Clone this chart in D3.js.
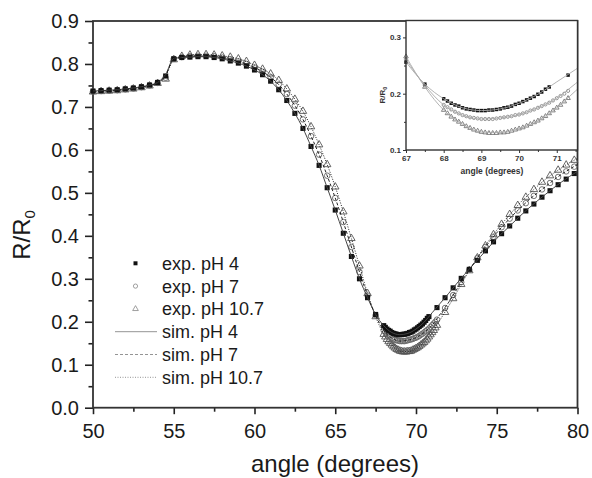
<!DOCTYPE html>
<html>
<head>
<meta charset="utf-8">
<script src="https://cdnjs.cloudflare.com/ajax/libs/d3/7.8.5/d3.min.js"></script>
<style>
body { margin: 0; background: #fff; }
text { font-family: "Liberation Sans", Arial, sans-serif; fill: #1a1a1a; }
</style>
</head>
<body>
<div id="chart"></div>
<script>
var width = 592,
    height = 478;

// measured angles (degrees)
var angleLow = [50, 50.5, 51, 51.5, 52, 52.5, 53, 53.5, 54, 54.5, 55, 55.5, 56, 56.5, 57, 57.5, 58, 58.5,
  59, 59.5, 60, 60.5, 61, 61.5, 62, 62.5, 63, 63.5, 64, 64.5, 65, 65.5, 66, 66.5, 67, 67.5];
var angleDense = [68.0, 68.1, 68.2, 68.3, 68.4, 68.5, 68.6, 68.7, 68.8, 68.9, 69.0, 69.1, 69.2, 69.3, 69.4,
  69.5, 69.6, 69.7, 69.8, 69.9, 70.0, 70.1, 70.2, 70.3, 70.4, 70.5, 70.6, 70.7, 70.8, 70.9, 71.0, 71.1, 71.2];
var angleHigh = [71.3, 71.8, 72.3, 72.8, 73.3, 73.8, 74.3, 74.8, 75.3, 75.8, 76.3, 76.8, 77.3, 77.8, 78.3,
  78.8, 79.3, 79.8];

// exp. pH 4
var exp4Low = [0.737, 0.738, 0.739, 0.740, 0.742, 0.744, 0.747, 0.751, 0.757, 0.772, 0.812, 0.815, 0.816,
  0.817, 0.817, 0.815, 0.812, 0.807, 0.802, 0.795, 0.786, 0.775, 0.760, 0.740, 0.715, 0.685, 0.650, 0.608,
  0.564, 0.512, 0.460, 0.406, 0.352, 0.300, 0.256, 0.217];
var exp4Dense = [0.191, 0.187, 0.183, 0.180, 0.178, 0.175, 0.173, 0.172, 0.171, 0.170, 0.170, 0.170, 0.171,
  0.171, 0.172, 0.173, 0.175, 0.176, 0.178, 0.181, 0.183, 0.186, 0.189, 0.192, 0.195, 0.199, 0.203, 0.208, 0.212];
var exp4High = [0.233, 0.256, 0.279, 0.301, 0.322, 0.343, 0.365, 0.386, 0.405, 0.423, 0.441, 0.458, 0.474,
  0.490, 0.505, 0.519, 0.532, 0.545];

// exp. pH 7
var exp7Low = [0.736, 0.737, 0.738, 0.739, 0.741, 0.743, 0.746, 0.750, 0.756, 0.768, 0.812, 0.816, 0.818,
  0.819, 0.819, 0.818, 0.815, 0.811, 0.806, 0.800, 0.792, 0.782, 0.769, 0.752, 0.730, 0.703, 0.671, 0.632,
  0.589, 0.540, 0.488, 0.432, 0.374, 0.316, 0.261, 0.215];
var exp7Dense = [0.180, 0.176, 0.172, 0.168, 0.165, 0.162, 0.160, 0.158, 0.157, 0.156, 0.155, 0.155, 0.155,
  0.155, 0.156, 0.157, 0.158, 0.159, 0.160, 0.162, 0.163, 0.165, 0.167, 0.170, 0.172, 0.175, 0.178, 0.181,
  0.184, 0.188, 0.192, 0.196, 0.200];
var exp7High = [0.205, 0.232, 0.262, 0.292, 0.321, 0.348, 0.374, 0.398, 0.420, 0.440, 0.459, 0.476, 0.493,
  0.508, 0.523, 0.537, 0.550, 0.561];

// exp. pH 10.7
var exp10Low = [0.735, 0.736, 0.737, 0.738, 0.740, 0.742, 0.745, 0.749, 0.755, 0.765, 0.810, 0.818, 0.821,
  0.822, 0.822, 0.821, 0.819, 0.816, 0.812, 0.806, 0.797, 0.788, 0.777, 0.762, 0.742, 0.718, 0.690, 0.654,
  0.612, 0.566, 0.514, 0.456, 0.394, 0.330, 0.266, 0.212];
var exp10Dense = [0.171, 0.165, 0.159, 0.154, 0.150, 0.146, 0.142, 0.139, 0.136, 0.134, 0.132, 0.131, 0.130,
  0.130, 0.130, 0.131, 0.131, 0.132, 0.134, 0.136, 0.138, 0.140, 0.143, 0.146, 0.149, 0.152, 0.156, 0.160,
  0.165, 0.170, 0.175, 0.180, 0.186];
var exp10High = [0.192, 0.222, 0.254, 0.287, 0.319, 0.349, 0.377, 0.403, 0.427, 0.450, 0.471, 0.490, 0.508,
  0.525, 0.540, 0.553, 0.565, 0.576];

// simulations
var simAngles = [50, 50.5, 51, 51.5, 52, 52.5, 53, 53.5, 54, 54.5, 55, 55.5, 56, 56.5, 57, 57.5, 58, 58.5,
  59, 59.5, 60, 60.5, 61, 61.5, 62, 62.5, 63, 63.5, 64, 64.5, 65, 65.5, 66, 66.5, 67, 67.5, 68, 68.5, 69,
  69.5, 70, 70.5, 71, 71.5, 72, 72.5, 73, 73.5, 74, 74.5, 75, 75.5, 76, 76.5, 77, 77.5, 78, 78.5, 79, 79.5, 80];
var sim4 = [0.737, 0.738, 0.739, 0.740, 0.742, 0.744, 0.747, 0.751, 0.757, 0.776, 0.813, 0.815, 0.816,
  0.817, 0.817, 0.815, 0.812, 0.807, 0.802, 0.795, 0.786, 0.775, 0.760, 0.740, 0.715, 0.685, 0.650, 0.608,
  0.564, 0.512, 0.460, 0.406, 0.352, 0.300, 0.256, 0.217, 0.191, 0.175, 0.170, 0.173, 0.183, 0.199, 0.221,
  0.243, 0.265, 0.288, 0.310, 0.331, 0.352, 0.373, 0.394, 0.412, 0.430, 0.448, 0.465, 0.481, 0.496, 0.511,
  0.525, 0.538, 0.550];
var sim7 = [0.736, 0.737, 0.738, 0.739, 0.741, 0.743, 0.746, 0.750, 0.756, 0.774, 0.812, 0.816, 0.818,
  0.819, 0.819, 0.818, 0.815, 0.811, 0.806, 0.800, 0.792, 0.782, 0.769, 0.752, 0.730, 0.703, 0.671, 0.632,
  0.589, 0.540, 0.488, 0.432, 0.374, 0.316, 0.261, 0.215, 0.180, 0.162, 0.155, 0.157, 0.163, 0.175, 0.192,
  0.218, 0.244, 0.274, 0.304, 0.332, 0.359, 0.384, 0.407, 0.428, 0.448, 0.466, 0.484, 0.499, 0.514, 0.529,
  0.543, 0.555, 0.566];
var sim10 = [0.735, 0.736, 0.737, 0.738, 0.740, 0.742, 0.745, 0.749, 0.755, 0.772, 0.810, 0.818, 0.821,
  0.822, 0.822, 0.821, 0.819, 0.816, 0.812, 0.806, 0.797, 0.788, 0.777, 0.762, 0.742, 0.718, 0.690, 0.654,
  0.612, 0.566, 0.514, 0.456, 0.394, 0.330, 0.266, 0.212, 0.171, 0.146, 0.132, 0.131, 0.138, 0.152, 0.175,
  0.205, 0.235, 0.267, 0.300, 0.331, 0.361, 0.388, 0.413, 0.436, 0.458, 0.479, 0.497, 0.515, 0.531, 0.545,
  0.558, 0.570, 0.580];

var yTicks = [0.0, 0.1, 0.2, 0.3, 0.4, 0.5, 0.6, 0.7, 0.8, 0.9];
var xTicks = [50, 55, 60, 65, 70, 75, 80];
var insetXTicks = [67, 68, 69, 70, 71];
var insetYTicks = [0.1, 0.2, 0.3];
var legendLabels = ["exp. pH 4", "exp. pH 7", "exp. pH 10.7", "sim. pH 4", "sim. pH 7", "sim. pH 10.7"];

function zip(a, r) {
  return a.map(function(d, i) { return { a: d, r: r[i] }; });
}

var exp4 = zip(angleLow, exp4Low).concat(zip(angleDense.slice(0, exp4Dense.length), exp4Dense), zip(angleHigh, exp4High));
var exp7 = zip(angleLow, exp7Low).concat(zip(angleDense, exp7Dense), zip(angleHigh, exp7High));
var exp10 = zip(angleLow, exp10Low).concat(zip(angleDense, exp10Dense), zip(angleHigh, exp10High));
var sims = [zip(simAngles, sim4), zip(simAngles, sim7), zip(simAngles, sim10)];

var svg = d3.select("#chart")
  .append("svg")
  .attr("width", width)
  .attr("height", height);

var x = d3.scaleLinear().domain([50, 80]).range([93, 577.5]);
var y = d3.scaleLinear().domain([0, 0.9]).range([407.7, 21]);

svg.append("clipPath").attr("id", "mainclip")
  .append("rect").attr("x", 93).attr("y", 21).attr("width", 484.5).attr("height", 386.7);

// minor ticks
svg.append("g")
  .attr("transform", "translate(93,0)")
  .call(d3.axisLeft(y).tickValues([0.05, 0.15, 0.25, 0.35, 0.45, 0.55, 0.65, 0.75, 0.85]).tickSize(4.5).tickFormat(""))
  .call(function(g) { g.select(".domain").remove(); });
svg.append("g")
  .attr("transform", "translate(0,407.7)")
  .call(d3.axisBottom(x).tickValues([52.5, 57.5, 62.5, 67.5, 72.5, 77.5]).tickSize(4).tickFormat(""))
  .call(function(g) { g.select(".domain").remove(); });

var yAxis = svg.append("g")
  .attr("transform", "translate(93,0)")
  .call(d3.axisLeft(y).tickValues(yTicks).tickSize(8).tickPadding(6).tickFormat(d3.format(".1f")));
yAxis.select(".domain").remove();
yAxis.selectAll("text").attr("font-size", "20px");

var xAxis = svg.append("g")
  .attr("transform", "translate(0,407.7)")
  .call(d3.axisBottom(x).tickValues(xTicks).tickSize(6.5).tickPadding(9.5));
xAxis.select(".domain").remove();
xAxis.selectAll("text").attr("font-size", "20px");

svg.selectAll(".tick line").attr("stroke", "#222").attr("stroke-width", 1.6);

// frame
svg.append("rect")
  .attr("x", 93).attr("y", 21).attr("width", 484.5).attr("height", 386.7)
  .attr("fill", "none").attr("stroke", "#333").attr("stroke-width", 1.8);

var sym = d3.symbol();
var styles = [
  { type: d3.symbolSquare, size: 26, fill: "#111", stroke: "none" },
  { type: d3.symbolCircle, size: 24, fill: "none", stroke: "#666" },
  { type: d3.symbolTriangle, size: 24, fill: "none", stroke: "#555" }
];

function drawMarkers(g, data, st, sx, sy) {
  g.selectAll(null)
    .data(data)
    .enter()
    .append("path")
    .attr("transform", function(d) { return "translate(" + sx(d.a) + "," + sy(d.r) + ")"; })
    .attr("d", sym.type(st.type).size(st.size)())
    .attr("fill", st.fill)
    .attr("stroke", st.stroke)
    .attr("stroke-width", 0.9);
}

var gMain = svg.append("g");
drawMarkers(gMain, exp10, styles[2], x, y);
drawMarkers(gMain, exp7, styles[1], x, y);
drawMarkers(gMain, exp4, styles[0], x, y);

var lineStyles = [
  { dash: null, color: "#444" },
  { dash: "3,2", color: "#222" },
  { dash: "1,1.5", color: "#222" }
];

var line = d3.line()
  .x(function(d) { return x(d.a); })
  .y(function(d) { return y(d.r); })
  .curve(d3.curveMonotoneX);

gMain.selectAll(".sim")
  .data(sims)
  .enter()
  .append("path")
  .attr("class", "sim")
  .attr("clip-path", "url(#mainclip)")
  .attr("d", line)
  .attr("fill", "none")
  .attr("stroke", function(d, i) { return lineStyles[i].color; })
  .attr("stroke-width", 1)
  .attr("stroke-dasharray", function(d, i) { return lineStyles[i].dash; });

// axis titles
svg.append("text")
  .attr("transform", "translate(30,235) rotate(-90)")
  .attr("text-anchor", "middle")
  .attr("font-size", "24px")
  .text("R/R")
  .append("tspan").attr("font-size", "15px").attr("dy", "5").text("0");

svg.append("text")
  .attr("x", 335).attr("y", 472)
  .attr("text-anchor", "middle")
  .attr("font-size", "24px")
  .text("angle (degrees)");

// legend
var legend = svg.append("g");
legendLabels.forEach(function(lab, i) {
  var ly = 263.3 + i * 22.8;
  if (i < 3) {
    legend.append("path")
      .attr("transform", "translate(135.5," + ly + ")")
      .attr("d", sym.type(styles[i].type).size(i === 0 ? 16 : 14)())
      .attr("fill", styles[i].fill)
      .attr("stroke", i === 0 ? "none" : "#888")
      .attr("stroke-width", 0.8);
  } else {
    legend.append("line")
      .attr("x1", 115).attr("x2", 157)
      .attr("y1", ly).attr("y2", ly)
      .attr("stroke", "#888")
      .attr("stroke-width", 0.9)
      .attr("stroke-dasharray", lineStyles[i - 3].dash);
  }
  legend.append("text")
    .attr("x", 162).attr("y", ly)
    .attr("dy", "0.36em")
    .attr("font-size", "18px")
    .text(lab);
});

// inset
var ix = d3.scaleLinear().domain([67, 71.55]).range([406, 577.5]);
var iy = d3.scaleLinear().domain([0.1, 0.33]).range([150, 20.5]);

var inset = svg.append("g");
inset.append("rect")
  .attr("x", 406).attr("y", 20.5).attr("width", 171.5).attr("height", 129.5)
  .attr("fill", "#fff");

svg.append("clipPath").attr("id", "insetclip")
  .append("rect").attr("x", 406).attr("y", 20.5).attr("width", 171.5).attr("height", 129.5);

function inRange(d) { return d.a >= 66.9 && d.a <= 71.55; }

var gIn = inset.append("g");
drawMarkers(gIn, exp10.filter(inRange), { type: d3.symbolTriangle, size: 9, fill: "none", stroke: "#777" }, ix, iy);
drawMarkers(gIn, exp7.filter(inRange), { type: d3.symbolCircle, size: 8, fill: "none", stroke: "#888" }, ix, iy);
drawMarkers(gIn, exp4.filter(inRange), { type: d3.symbolSquare, size: 12, fill: "#111", stroke: "none" }, ix, iy);

var iline = d3.line()
  .x(function(d) { return ix(d.a); })
  .y(function(d) { return iy(d.r); })
  .curve(d3.curveMonotoneX);

gIn.selectAll(".isim")
  .data(sims)
  .enter()
  .append("path")
  .attr("class", "isim")
  .attr("clip-path", "url(#insetclip)")
  .attr("d", iline)
  .attr("fill", "none")
  .attr("stroke", "#aaa")
  .attr("stroke-width", 0.9);

var iyAxis = inset.append("g")
  .attr("transform", "translate(406,0)")
  .call(d3.axisLeft(iy).tickValues(insetYTicks).tickSize(3).tickPadding(2).tickFormat(d3.format(".1f")));
inset.append("g")
  .attr("transform", "translate(406,0)")
  .call(d3.axisLeft(iy).tickValues([0.15, 0.25]).tickSize(2).tickFormat(""))
  .call(function(g) { g.select(".domain").remove(); });
var ixAxis = inset.append("g")
  .attr("transform", "translate(0,150)")
  .call(d3.axisBottom(ix).tickValues(insetXTicks).tickSize(3).tickPadding(2).tickFormat(d3.format("d")));
inset.append("g")
  .attr("transform", "translate(0,150)")
  .call(d3.axisBottom(ix).tickValues([67.5, 68.5, 69.5, 70.5, 71.5]).tickSize(2).tickFormat(""))
  .call(function(g) { g.select(".domain").remove(); });
iyAxis.select(".domain").remove();
ixAxis.select(".domain").remove();
inset.selectAll("text").attr("font-size", "8px").attr("font-weight", "bold").style("fill", "#333");
inset.selectAll(".tick line").attr("stroke", "#333");

inset.append("rect")
  .attr("x", 406).attr("y", 20.5).attr("width", 171.5).attr("height", 129.5)
  .attr("fill", "none").attr("stroke", "#333").attr("stroke-width", 1.4);

inset.append("text")
  .attr("x", 492).attr("y", 174)
  .attr("text-anchor", "middle")
  .attr("font-size", "8.5px")
  .attr("font-weight", "bold")
  .style("fill", "#333")
  .text("angle (degrees)");

inset.append("text")
  .attr("transform", "translate(385,95) rotate(-90)")
  .attr("text-anchor", "middle")
  .attr("font-size", "8px")
  .attr("font-weight", "bold")
  .style("fill", "#333")
  .text("R/R")
  .append("tspan").attr("font-size", "5.5px").attr("dy", "2").text("0");
</script>
</body>
</html>
